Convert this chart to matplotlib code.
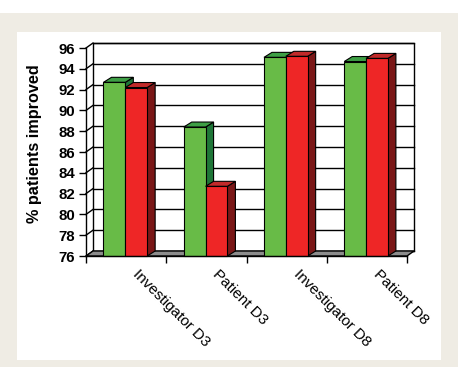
import matplotlib
matplotlib.use("Agg")
import matplotlib.pyplot as plt
from matplotlib.patches import Polygon, Rectangle

plt.rcParams["font.family"] = ["Liberation Sans", "DejaVu Sans"]

# data
categories = ["Investigator D3", "Patient D3", "Investigator D8", "Patient D8"]
green_vals = [92.7, 88.4, 95.1, 94.7]
red_vals = [92.2, 82.7, 95.2, 95.0]
y_ticks = [76, 78, 80, 82, 84, 86, 88, 90, 92, 94, 96]

Y0, Y1 = 76, 96
N = len(categories)

# colours (front, top, side)
GREEN = ("#68bb47", "#3e9f45", "#1f7638")
RED = ("#ee2626", "#c12a2a", "#7a1717")
FLOOR = "#8c8c8c"

W, H = 469, 367
fig = plt.figure(figsize=(W / 100, H / 100), dpi=100, facecolor="white")

# beige frame and white panel behind the chart
bg = fig.add_axes([0, 0, 1, 1], zorder=-10)
bg.set_xlim(0, W)
bg.set_ylim(H, 0)
bg.axis("off")
bg.add_patch(Rectangle((0, 13), 458, H - 13, facecolor="#efece4", edgecolor="none"))
bg.add_patch(Rectangle((17, 32), 424, 328, facecolor="white", edgecolor="none"))

# axes = front plane of the 3d chart
left, right, top, bottom = 86, 407, 48, 256
ax = fig.add_axes([left / W, 1 - bottom / H, (right - left) / W, (bottom - top) / H])
ax.set_xlim(0, N)
ax.set_ylim(Y0, Y1)
ax.patch.set_alpha(0)

# depth offset (pixels -> data units)
px_x = (right - left) / N
px_y = (bottom - top) / (Y1 - Y0)
dx = 7 / px_x
dy = 5 / px_y
bdx = 8 / px_x

lw = 1.0
# back wall
ax.add_patch(Rectangle((dx, Y0 + dy), N, Y1 - Y0, facecolor="white",
                       edgecolor="black", lw=lw, clip_on=False, zorder=1))
for v in y_ticks:
    ax.plot([dx, N + dx], [v + dy, v + dy], color="black", lw=lw, clip_on=False, zorder=1.1)
    ax.plot([0, dx], [v, v + dy], color="black", lw=lw, clip_on=False, zorder=1.1)

# floor
ax.add_patch(Polygon([(0, Y0), (N, Y0), (N + dx, Y0 + dy), (dx, Y0 + dy)], closed=True,
                     facecolor=FLOOR, edgecolor="black", lw=lw, clip_on=False, zorder=1.2))


def box(x0, w, v, cols):
    front, topc, side = cols
    ax.add_patch(Polygon([(x0 + w, Y0), (x0 + w + bdx, Y0 + dy), (x0 + w + bdx, v + dy), (x0 + w, v)],
                         closed=True, facecolor=side, edgecolor="black", lw=0.8,
                         clip_on=False, zorder=2))
    ax.add_patch(Polygon([(x0, v), (x0 + w, v), (x0 + w + bdx, v + dy), (x0 + bdx, v + dy)],
                         closed=True, facecolor=topc, edgecolor="black", lw=0.8,
                         clip_on=False, zorder=2))
    ax.add_patch(Rectangle((x0, Y0), w, v - Y0, facecolor=front, edgecolor="black",
                           lw=0.8, clip_on=False, zorder=2))


bw = 0.272
for i in range(N):
    c = i + 0.49
    box(c - bw, bw, green_vals[i], GREEN)
    box(c, bw, red_vals[i], RED)

# axes lines and ticks
for s in ["top", "right"]:
    ax.spines[s].set_visible(False)
ax.spines["left"].set_linewidth(lw)
ax.spines["bottom"].set_linewidth(lw)
ax.spines["left"].set_zorder(3)
ax.spines["bottom"].set_zorder(3)
ax.set_yticks(y_ticks)
ax.set_yticklabels([str(v) for v in y_ticks], fontsize=10.8, fontweight="bold")
ax.tick_params(axis="y", direction="out", length=5, width=lw, pad=3)
ax.set_xticks(range(N + 1))
ax.set_xticklabels([])
ax.tick_params(axis="x", direction="out", length=5, width=lw)

for i, lab in enumerate(categories):
    ax.annotate(lab, xy=(i + 0.5, Y0), xycoords="data", xytext=(10, -8),
                textcoords="offset points", rotation=-45, rotation_mode="anchor",
                ha="left", va="top", fontsize=11)

fig.text(35 / W, 1 - 144 / H, "% patients improved", rotation=90, ha="center",
         va="center", fontsize=11.7, fontweight="bold")

fig.savefig("out.png", dpi=100, facecolor="white")
